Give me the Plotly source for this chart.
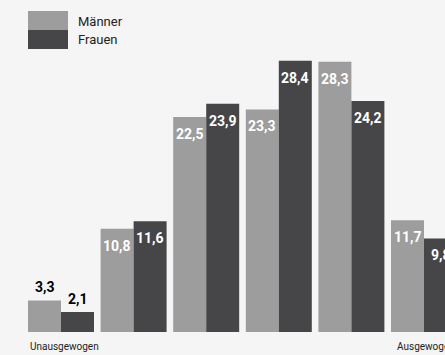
import plotly.graph_objects as go

categories = ["1", "2", "3", "4", "5", "6"]
maenner = [3.3, 10.8, 22.5, 23.3, 28.3, 11.7]
frauen = [2.1, 11.6, 23.9, 28.4, 24.2, 9.8]
series_names = ["Männer", "Frauen"]
axis_labels = ["Unausgewogen", "Ausgewogen"]

C_M = "#9d9d9d"
C_F = "#464648"
BG = "#f5f5f5"
FONT = "Roboto"

W, H = 445, 355
pitch = 72.6
c0 = 61.0
scale = 9.55
half = 16.5


def fmt(v):
    return f"{v:.1f}".replace(".", ",")


fig = go.Figure()
annotations = []
for k, (name, vals, col) in enumerate([(series_names[0], maenner, C_M), (series_names[1], frauen, C_F)]):
    fig.add_trace(go.Bar(
        x=list(range(len(categories))), y=vals, name=name,
        marker=dict(color=col, line=dict(width=0)),
        showlegend=False, hoverinfo="skip",
    ))
    xs = -half if k == 0 else half
    for i, v in enumerate(vals):
        inside = v >= 5
        annotations.append(dict(
            x=i, y=v, xref="x", yref="y", text=fmt(v), showarrow=False,
            xanchor="center", yanchor="middle", xshift=xs,
            yshift=-17 if inside else 13,
            font=dict(family=FONT, size=14, color="white" if inside else "black", weight="bold"),
        ))


def px2x(px):
    return px / W


def py2y(py):
    return (H - py) / H


shapes = [
    dict(type="rect", xref="paper", yref="paper", x0=px2x(28), x1=px2x(68), y0=py2y(30), y1=py2y(11),
         fillcolor=C_M, line=dict(width=0)),
    dict(type="rect", xref="paper", yref="paper", x0=px2x(28), x1=px2x(68), y0=py2y(49), y1=py2y(30),
         fillcolor=C_F, line=dict(width=0)),
]
annotations += [
    dict(text=series_names[0], xref="paper", yref="paper", x=px2x(76), y=py2y(21), xanchor="left",
         yanchor="middle", showarrow=False, font=dict(family=FONT, size=13, color="#222")),
    dict(text=series_names[1], xref="paper", yref="paper", x=px2x(76), y=py2y(40), xanchor="left",
         yanchor="middle", showarrow=False, font=dict(family=FONT, size=13, color="#222")),
    dict(text=axis_labels[0], xref="paper", yref="paper", x=px2x(28), y=py2y(346), xanchor="left",
         yanchor="middle", showarrow=False, font=dict(family=FONT, size=10, color="#222")),
    dict(text=axis_labels[1], xref="paper", yref="paper", x=px2x(395), y=py2y(346), xanchor="left",
         yanchor="middle", showarrow=False, font=dict(family=FONT, size=10, color="#222")),
]

fig.update_layout(
    width=W, height=H,
    margin=dict(l=0, r=0, t=0, b=0),
    paper_bgcolor=BG, plot_bgcolor=BG,
    barmode="group", bargap=1 - 66 / pitch, bargroupgap=0,
    xaxis=dict(range=[-c0 / pitch, (W - c0) / pitch], visible=False, fixedrange=True),
    yaxis=dict(range=[-(H - 332) / scale, 332 / scale], visible=False, fixedrange=True),
    shapes=shapes, annotations=annotations,
    showlegend=False,
)
fig.write_html("out.html", config={"displayModeBar": False},
               post_script="document.body.style.margin='0';document.body.style.overflow='hidden';")
